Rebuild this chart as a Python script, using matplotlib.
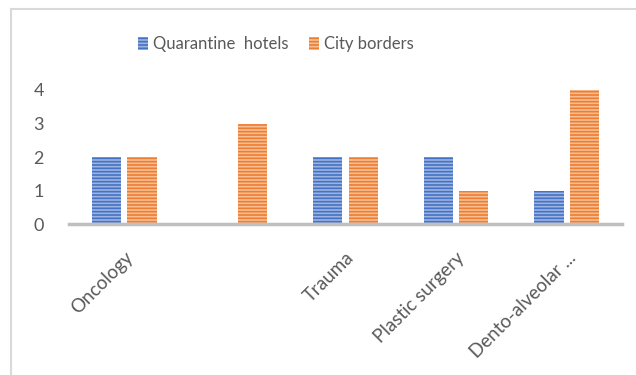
import matplotlib.pyplot as plt
import numpy as np
from matplotlib.lines import Line2D

plt.rcParams['font.family'] = ['Lato', 'DejaVu Sans']
plt.rcParams['hatch.linewidth'] = 1.2

# data
categories = ["Oncology", "", "Trauma", "Plastic surgery", "Dento-alveolar ..."]
quarantine_hotels = [2, 0, 2, 2, 1]
city_borders = [2, 3, 2, 1, 4]

fig = plt.figure(figsize=(6.36, 3.75), dpi=100)
ax = fig.add_axes([0.1085, 1 - 224 / 375, 0.8695, 134 / 375])

x = np.arange(len(categories))
w = 0.265
off = 0.16
ax.bar(x - off, quarantine_hotels, w, color="#9db4e0", edgecolor="#4472c4",
       hatch="-----", linewidth=0, label="Quarantine  hotels")
ax.bar(x + off, city_borders, w, color="#f8be94", edgecolor="#ed7d31",
       hatch="-----", linewidth=0, label="City borders")

ax.set_xlim(-0.5, 4.5)
ax.set_ylim(0, 4)
ax.set_yticks([0, 1, 2, 3, 4])
for s in ["top", "right", "left"]:
    ax.spines[s].set_visible(False)
ax.spines["bottom"].set_color("#bfbfbf")
ax.spines["bottom"].set_linewidth(2.5)
ax.tick_params(axis="both", length=0, colors="#595959")
ax.tick_params(axis="y", pad=18, labelsize=13)
ax.set_xticks(x)
ax.set_xticklabels(categories, rotation=45, ha="right", rotation_mode="anchor")
ax.tick_params(axis="x", pad=18, labelsize=13.5)

leg = fig.legend(loc="center", bbox_to_anchor=(276 / 636, 1 - 44 / 375), ncol=2,
                 frameon=False, fontsize=12, handlelength=0.6, handleheight=0.8,
                 handletextpad=0.3, columnspacing=1.2)
for t in leg.get_texts():
    t.set_color("#595959")

# chart frame
fig.add_artist(Line2D([11 / 636, 11 / 636], [0, 1 - 9 / 375], color="#d9d9d9", lw=1.5))
fig.add_artist(Line2D([11 / 636, 1], [1 - 9 / 375, 1 - 9 / 375], color="#d9d9d9", lw=1.5))

fig.savefig("out.png", dpi=100)
